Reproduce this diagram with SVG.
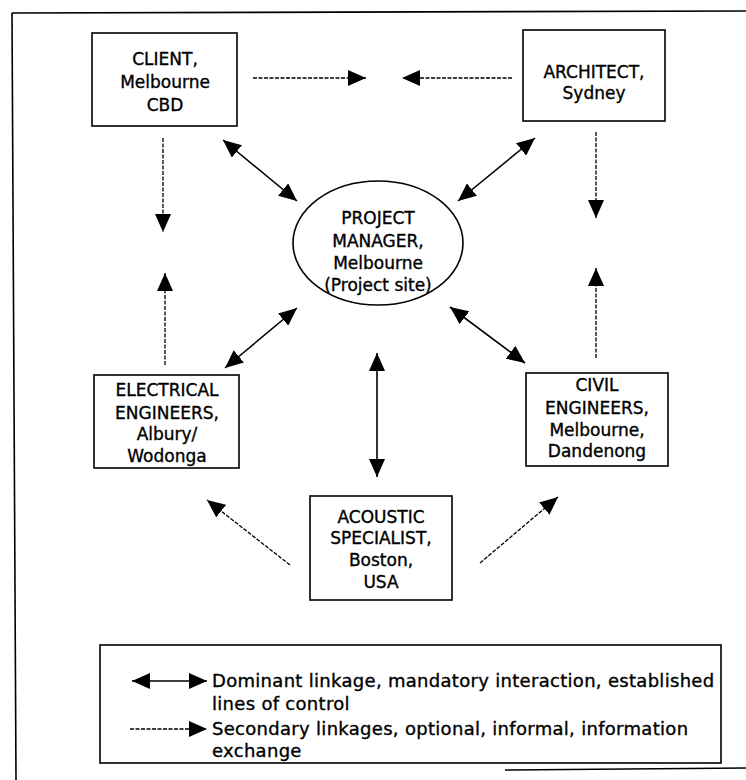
<svg xmlns="http://www.w3.org/2000/svg" width="746" height="780" viewBox="0 0 746 780">
<style>
  .box { fill: #fff; stroke: #000; stroke-width: 1.6; }
  .t { font-family: "DejaVu Sans", "Liberation Sans", sans-serif; font-size: 17px; fill: #000; stroke: #000; stroke-width: 0.35; text-anchor: middle; }
  .lg { font-family: "DejaVu Sans", "Liberation Sans", sans-serif; font-size: 18px; letter-spacing: 0.3px; fill: #000; stroke: #000; stroke-width: 0.35; }
  .solid { stroke: #000; stroke-width: 1.6; fill: none; marker-start: url(#ah); marker-end: url(#ah); }
  .dash { stroke: #000; stroke-width: 1.3; stroke-dasharray: 4 1.5; fill: none; marker-end: url(#ah); }
  .frame { stroke: #000; stroke-width: 1.6; fill: none; }
</style>
<defs>
  <marker id="ah" viewBox="0 0 18 16" refX="18" refY="8" markerWidth="18" markerHeight="16" markerUnits="userSpaceOnUse" orient="auto-start-reverse">
    <path d="M0,0 L18,8 L0,16 Z" fill="#000"/>
  </marker>
</defs>
<rect width="746" height="780" fill="#fff"/>
<g id="frame">
  <path class="frame" d="M12,13 L746,11"/>
  <path class="frame" d="M12,13 L16,780"/>
  <path class="frame" d="M505,770 L746,768" stroke-width="2.2"/>
</g>
<g id="connectors">
  <line class="dash" x1="253" y1="78" x2="366" y2="78"/>
  <line class="dash" x1="512" y1="78" x2="402" y2="78"/>
  <line class="dash" x1="163" y1="138" x2="163" y2="232"/>
  <line class="dash" x1="165" y1="365" x2="165" y2="273"/>
  <line class="dash" x1="596" y1="132" x2="596" y2="218"/>
  <line class="dash" x1="596" y1="358" x2="596" y2="268"/>
  <line class="dash" x1="290" y1="565" x2="207" y2="500"/>
  <line class="dash" x1="480" y1="563" x2="558" y2="497"/>
  <line class="solid" x1="223" y1="140" x2="297" y2="201"/>
  <line class="solid" x1="535" y1="138" x2="458" y2="201"/>
  <line class="solid" x1="225" y1="368" x2="297" y2="308"/>
  <line class="solid" x1="450" y1="307" x2="525" y2="363"/>
  <line class="solid" x1="377" y1="353" x2="377" y2="477"/>
</g>
<g id="client">
  <rect class="box" x="92" y="33" width="145" height="93"/>
  <text class="t" x="165" y="65">CLIENT,</text>
  <text class="t" x="165" y="88">Melbourne</text>
  <text class="t" x="165" y="111">CBD</text>
</g>
<g id="architect">
  <rect class="box" x="523" y="30" width="142" height="91"/>
  <text class="t" x="594" y="78">ARCHITECT,</text>
  <text class="t" x="594" y="99">Sydney</text>
</g>
<g id="project-manager">
  <ellipse class="box" cx="378" cy="243" rx="85" ry="62"/>
  <text class="t" x="378" y="224">PROJECT</text>
  <text class="t" x="378" y="247">MANAGER,</text>
  <text class="t" x="378" y="269">Melbourne</text>
  <text class="t" x="378" y="291">(Project site)</text>
</g>
<g id="electrical">
  <rect class="box" x="94" y="375" width="145" height="93"/>
  <text class="t" x="167" y="396">ELECTRICAL</text>
  <text class="t" x="167" y="419">ENGINEERS,</text>
  <text class="t" x="167" y="440">Albury/</text>
  <text class="t" x="167" y="462">Wodonga</text>
</g>
<g id="civil">
  <rect class="box" x="526" y="373" width="142" height="93"/>
  <text class="t" x="597" y="391">CIVIL</text>
  <text class="t" x="597" y="414">ENGINEERS,</text>
  <text class="t" x="597" y="436">Melbourne,</text>
  <text class="t" x="597" y="457">Dandenong</text>
</g>
<g id="acoustic">
  <rect class="box" x="310" y="496" width="142" height="104"/>
  <text class="t" x="381" y="523">ACOUSTIC</text>
  <text class="t" x="381" y="544">SPECIALIST,</text>
  <text class="t" x="381" y="566">Boston,</text>
  <text class="t" x="381" y="588">USA</text>
</g>
<g id="legend">
  <rect class="box" x="100" y="645" width="621" height="118"/>
  <line class="solid" x1="132" y1="681" x2="207" y2="681"/>
  <text class="lg" x="212" y="687">Dominant linkage, mandatory interaction, established</text>
  <text class="lg" x="212" y="710">lines of control</text>
  <line class="dash" x1="130" y1="729" x2="207" y2="729"/>
  <text class="lg" x="212" y="735">Secondary linkages, optional, informal, information</text>
  <text class="lg" x="212" y="757">exchange</text>
</g>
</svg>
